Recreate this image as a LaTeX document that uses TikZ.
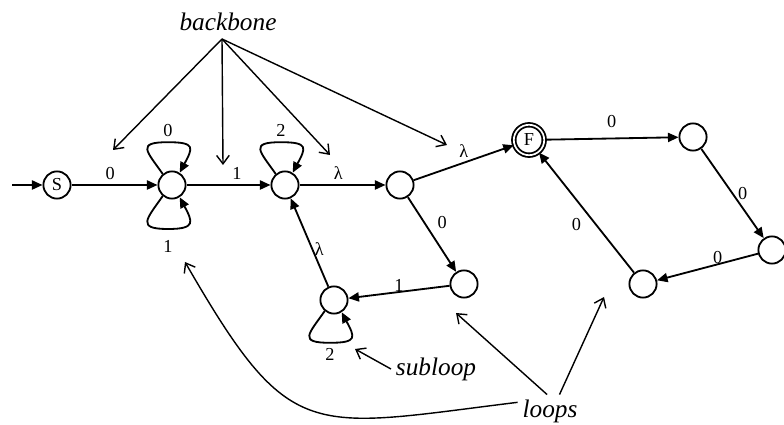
\documentclass[tikz,border=0pt]{standalone}
\usepackage{fontspec}
\setmainfont{Liberation Serif}
\usetikzlibrary{arrows.meta}

\begin{document}
\begin{tikzpicture}[
    every node/.style={font=\fontsize{13}{15}\selectfont},
    state/.style={draw, circle, line width=1.3pt, minimum size=0.68cm, inner sep=0pt},
    trans/.style={line width=1.3pt, -{Triangle[length=7.5pt,width=6.5pt]}},
    pointer/.style={line width=1pt, -{Straight Barb[length=6pt,width=9pt]}},
    callout/.style={font=\fontsize{18}{20}\selectfont\itshape}
  ]
  \useasboundingbox (0,0) rectangle (19.6,10.625);

  % states of the backbone
  \coordinate (in) at (0.3,6);
  \node[state] (s) at (1.425,6) {S};
  \node[state] (n1) at (4.3,6) {};
  \node[state] (n2) at (7.125,6) {};
  \node[state] (n3) at (10,6) {};
  \node[state, double, double distance=1.2pt, minimum size=0.76cm] (f) at (13.225,7.125) {F};
  % states of the loops
  \node[state] (n5) at (17.325,7.2) {};
  \node[state] (n6) at (19.3,4.375) {};
  \node[state] (n7) at (16.075,3.525) {};
  \node[state] (n8) at (11.6,3.525) {};
  \node[state] (n9) at (8.35,3.125) {};

  % transitions
  \draw[trans] (in) -- (s);
  \draw[trans] (s) -- node[above, pos=0.45] {0} (n1);
  \draw[trans] (n1) -- node[above, pos=0.6] {1} (n2);
  \draw[trans] (n2) -- node[above, pos=0.45] {λ} (n3);
  \draw[trans] (n3) -- node[above] {λ} (f);
  \draw[trans] (n3) -- node[above right] {0} (n8);
  \draw[trans] (n8) -- node[above, inner sep=0pt] {1} (n9);
  \draw[trans] (n9) -- node[right, inner sep=1pt, pos=0.42] {λ} (n2);
  \draw[trans] (f) -- node[above=4pt] {0} (n5);
  \draw[trans] (n5) -- node[right] {0} (n6);
  \draw[trans] (n6) -- node[above, inner sep=0pt, pos=0.4] {0} (n7);
  \draw[trans] (n7) -- node[below left] {0} (f);

  % self loops
  \draw[trans] (n1.130) .. controls +(125:0.7) and +(-0.8,0) .. ([shift={(-0.1,1.07)}]n1.center) node[above] {0}
    .. controls +(0.7,0) and +(62:0.7) .. (n1.58);
  \draw[trans] (n1.-130) .. controls +(-125:0.7) and +(-0.8,0) .. ([shift={(-0.1,-1.1)}]n1.center) node[below=4pt] {1}
    .. controls +(0.7,0) and +(-62:0.7) .. (n1.-58);
  \draw[trans] (n2.130) .. controls +(125:0.7) and +(-0.8,0) .. ([shift={(-0.1,1.07)}]n2.center) node[above] {2}
    .. controls +(0.7,0) and +(62:0.7) .. (n2.58);
  \draw[trans] (n9.-130) .. controls +(-125:0.7) and +(-0.8,0) .. ([shift={(-0.1,-1.07)}]n9.center) node[below] {2}
    .. controls +(0.7,0) and +(-62:0.7) .. (n9.-58);

  % callouts
  \node[callout] (backbone) at (5.7,10.075) {backbone};
  \coordinate (hub) at (5.55,9.65);
  \coordinate (b1) at (2.825,6.875);
  \coordinate (b2) at (5.575,6.5);
  \coordinate (b3) at (8.25,6.75);
  \coordinate (b4) at (11.175,7);
  \draw[pointer] (hub) -- (b1);
  \draw[pointer] (hub) -- (b2);
  \draw[pointer] (hub) -- (b3);
  \draw[pointer] (hub) -- (b4);

  \node[callout] (subloop) at (10.9,1.4) {subloop};
  \coordinate (sl) at (8.875,1.9);
  \draw[pointer] (subloop.west) -- (sl);

  \node[callout] (loops) at (13.75,0.35) {loops};
  \coordinate (l1) at (4.625,4.075);
  \coordinate (l2) at (11.4,2.8);
  \coordinate (l3) at (15.1,3.2);
  \draw[pointer] (loops.165) to[out=187, in=-60, looseness=1.5] (l1);
  \draw[pointer] (loops.100) -- (l2);
  \draw[pointer] (loops.60) -- (l3);
\end{tikzpicture}
\end{document}
